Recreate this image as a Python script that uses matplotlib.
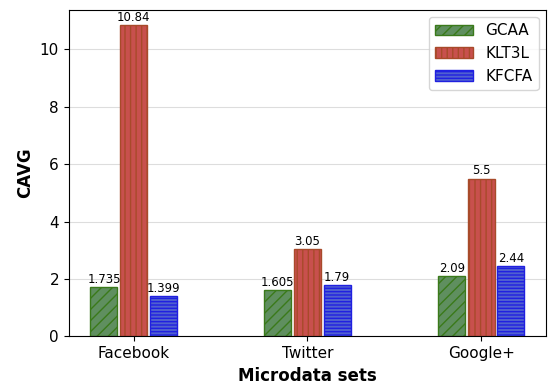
import numpy as np
import matplotlib.pyplot as plt

datasets = ['Facebook', 'Twitter', 'Google+']
gcaa = [1.735, 1.605, 2.09]
klt3l = [10.84, 3.05, 5.5]
kfcfa = [1.399, 1.79, 2.44]

x = np.arange(len(datasets))
w = 0.155
off = 0.17

fig, ax = plt.subplots(figsize=(5.5, 3.89), dpi=100)
ax.grid(axis='y', color='#dddddd', linewidth=0.8)
ax.set_axisbelow(True)

b1 = ax.bar(x - off, gcaa, w, color='#5f8f5f', edgecolor='#3a7a1a', hatch='///', label='GCAA')
b2 = ax.bar(x, klt3l, w, color='#c8504d', edgecolor='#a84a2a', hatch='|||', label='KLT3L')
b3 = ax.bar(x + off, kfcfa, w, color='#5060d0', edgecolor='#2020e0', hatch='-----', label='KFCFA')

for bars, vals in [(b1, gcaa), (b2, klt3l), (b3, kfcfa)]:
    for r, v in zip(bars, vals):
        ax.text(r.get_x() + r.get_width() / 2, r.get_height() + 0.04, str(v),
                ha='center', va='bottom', fontsize=8.5)

ax.set_xticks(x)
ax.set_xticklabels(datasets, fontsize=11)
ax.tick_params(axis='y', labelsize=11)
ax.set_xlabel('Microdata sets', fontsize=12, fontweight='bold')
ax.set_ylabel('CAVG', fontsize=12, fontweight='bold')
ax.legend(loc='upper right', fontsize=11, handlelength=2.5)

plt.subplots_adjust(left=0.125, right=0.993, top=0.975, bottom=0.135)
plt.savefig('out.png')
